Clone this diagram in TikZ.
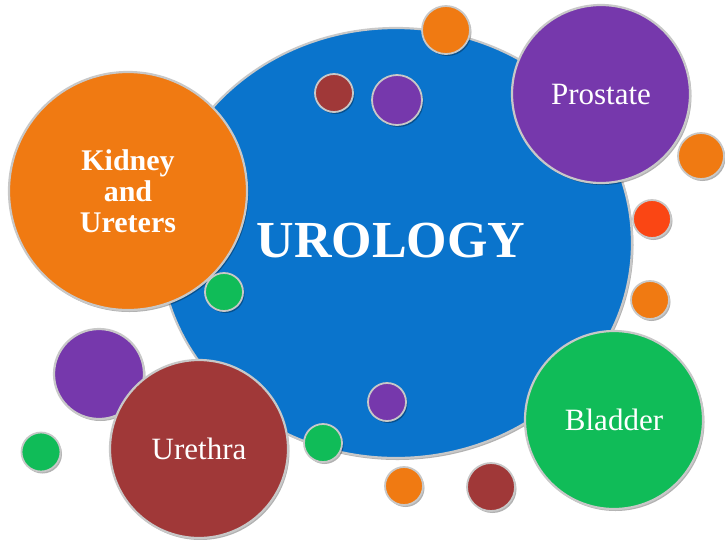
\documentclass[tikz,border=0pt]{standalone}
\usepackage{fontspec}
\setmainfont{Liberation Serif}
\usetikzlibrary{shapes.geometric,shadows}
\definecolor{cblue}{RGB}{10,116,204}
\definecolor{corange}{RGB}{240,122,18}
\definecolor{cpurple}{RGB}{118,56,172}
\definecolor{cdred}{RGB}{160,56,56}
\definecolor{cgreen}{RGB}{16,188,88}
\definecolor{credor}{RGB}{250,70,20}
\definecolor{crim}{RGB}{200,200,200}
\tikzset{
  bubble/.style={circle, inner sep=0pt, draw=crim, line width=2.2pt,
    text=white, align=center,
    drop shadow={shadow xshift=1.5pt, shadow yshift=-2pt, opacity=0.3, fill=black}},
  dot/.style={bubble, line width=1.8pt},
  lbl/.style={font=\fontsize{31}{31}\selectfont},
}
\begin{document}
\begin{tikzpicture}[x=1pt,y=-1pt]
\useasboundingbox (0,0) rectangle (725,539);
\node[ellipse, fill=cblue, draw=crim, line width=2.2pt, text=white, inner sep=0pt,
  minimum width=472pt, minimum height=430pt,
  drop shadow={shadow xshift=1.5pt, shadow yshift=-2pt, opacity=0.3, fill=black},
  font=\fontsize{52}{52}\selectfont\bfseries] (uro) at (396,243) {};
\node[text=white, font=\fontsize{52}{52}\selectfont\bfseries] (urotxt) at (391,241) {UROLOGY};
% small dots on/near the big ellipse
\node[dot, fill=cdred, minimum size=38pt] (d1) at (334,93) {};
\node[dot, fill=cpurple, minimum size=50pt] (d2) at (397,100) {};
\node[dot, fill=corange, minimum size=48pt] (d3) at (446,30) {};
\node[dot, fill=cpurple, minimum size=38pt] (d4) at (387,402) {};
% main bubbles
\node[bubble, fill=corange, minimum size=238pt, font=\fontsize{30}{31}\selectfont\bfseries] (kid) at (128,191) {Kidney\\and\\Ureters};
\node[bubble, fill=cpurple, minimum size=178pt, lbl] (pro) at (601,94) {Prostate};
\node[bubble, fill=cgreen, minimum size=178pt, lbl] (bla) at (614,420) {Bladder};
\node[dot, fill=cpurple, minimum size=90pt, line width=2.2pt] (d5) at (99,374) {};
\node[bubble, fill=cdred, minimum size=178pt, lbl] (ure) at (199,449) {Urethra};
% remaining dots
\node[dot, fill=cgreen, minimum size=38pt] (d6) at (224,292) {};
\node[dot, fill=corange, minimum size=46pt] (d7) at (701,156) {};
\node[dot, fill=credor, minimum size=38pt] (d8) at (652,219) {};
\node[dot, fill=corange, minimum size=38pt] (d9) at (650,300) {};
\node[dot, fill=corange, minimum size=38pt] (d10) at (404,486) {};
\node[dot, fill=cdred, minimum size=48pt] (d11) at (491,487) {};
\node[dot, fill=cgreen, minimum size=38pt] (d12) at (323,443) {};
\node[dot, fill=cgreen, minimum size=39pt] (d13) at (41,452) {};
\end{tikzpicture}
\end{document}
